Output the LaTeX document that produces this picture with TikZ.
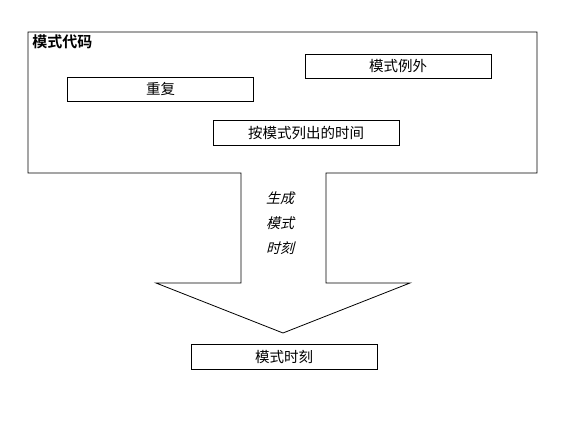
\documentclass[tikz,border=0pt]{standalone}
\usepackage{fontspec}
\setmainfont{Noto Sans CJK SC}
\newfontfamily\cjkit[FakeSlant=0.25]{Noto Sans CJK SC}
\newfontfamily\cjkbf{Noto Sans CJK SC Bold}
\begin{document}
\begin{tikzpicture}[x=1pt,y=-1pt,
  line width=0.8pt,
  boxst/.style={draw=black, fill=white, rectangle, inner sep=0pt, font=\fontsize{14.5}{15}\selectfont},
  lbl/.style={inner sep=0pt, font=\cjkit\fontsize{14}{15}\selectfont}]
\useasboundingbox (0,0) rectangle (567,425);
% combined frame and arrow outline
\coordinate (bl) at (28,173);
\coordinate (tl) at (28,32);
\coordinate (tr) at (537,32);
\coordinate (br) at (537,173);
\coordinate (sr) at (326,173);
\coordinate (srb) at (326,283);
\coordinate (hr) at (410,283);
\coordinate (tip) at (283,333);
\coordinate (hl) at (156,283);
\coordinate (slb) at (241,283);
\coordinate (sl) at (241,173);
\draw (bl) -- (tl) -- (tr) -- (br) -- (sr) -- (srb) -- (hr) -- (tip) -- (hl) -- (slb) -- (sl) -- cycle;
\node[anchor=west, inner sep=0pt, font=\cjkbf\fontsize{15}{16}\selectfont] (title) at (32,42) {模式代码};
\node[boxst, minimum width=186pt, minimum height=24pt] (rep) at (160.5,89) {重复};
\node[boxst, minimum width=186pt, minimum height=24pt] (exc) at (398,66) {模式例外};
\node[boxst, minimum width=186pt, minimum height=25pt] (time) at (306,132.5) {按模式列出的时间};
\node[lbl] (l1) at (280,198) {生成};
\node[lbl] (l2) at (280,223) {模式};
\node[lbl] (l3) at (280,248) {时刻};
\node[boxst, minimum width=186pt, minimum height=25pt] (out) at (284,356.5) {模式时刻};
\end{tikzpicture}
\end{document}
